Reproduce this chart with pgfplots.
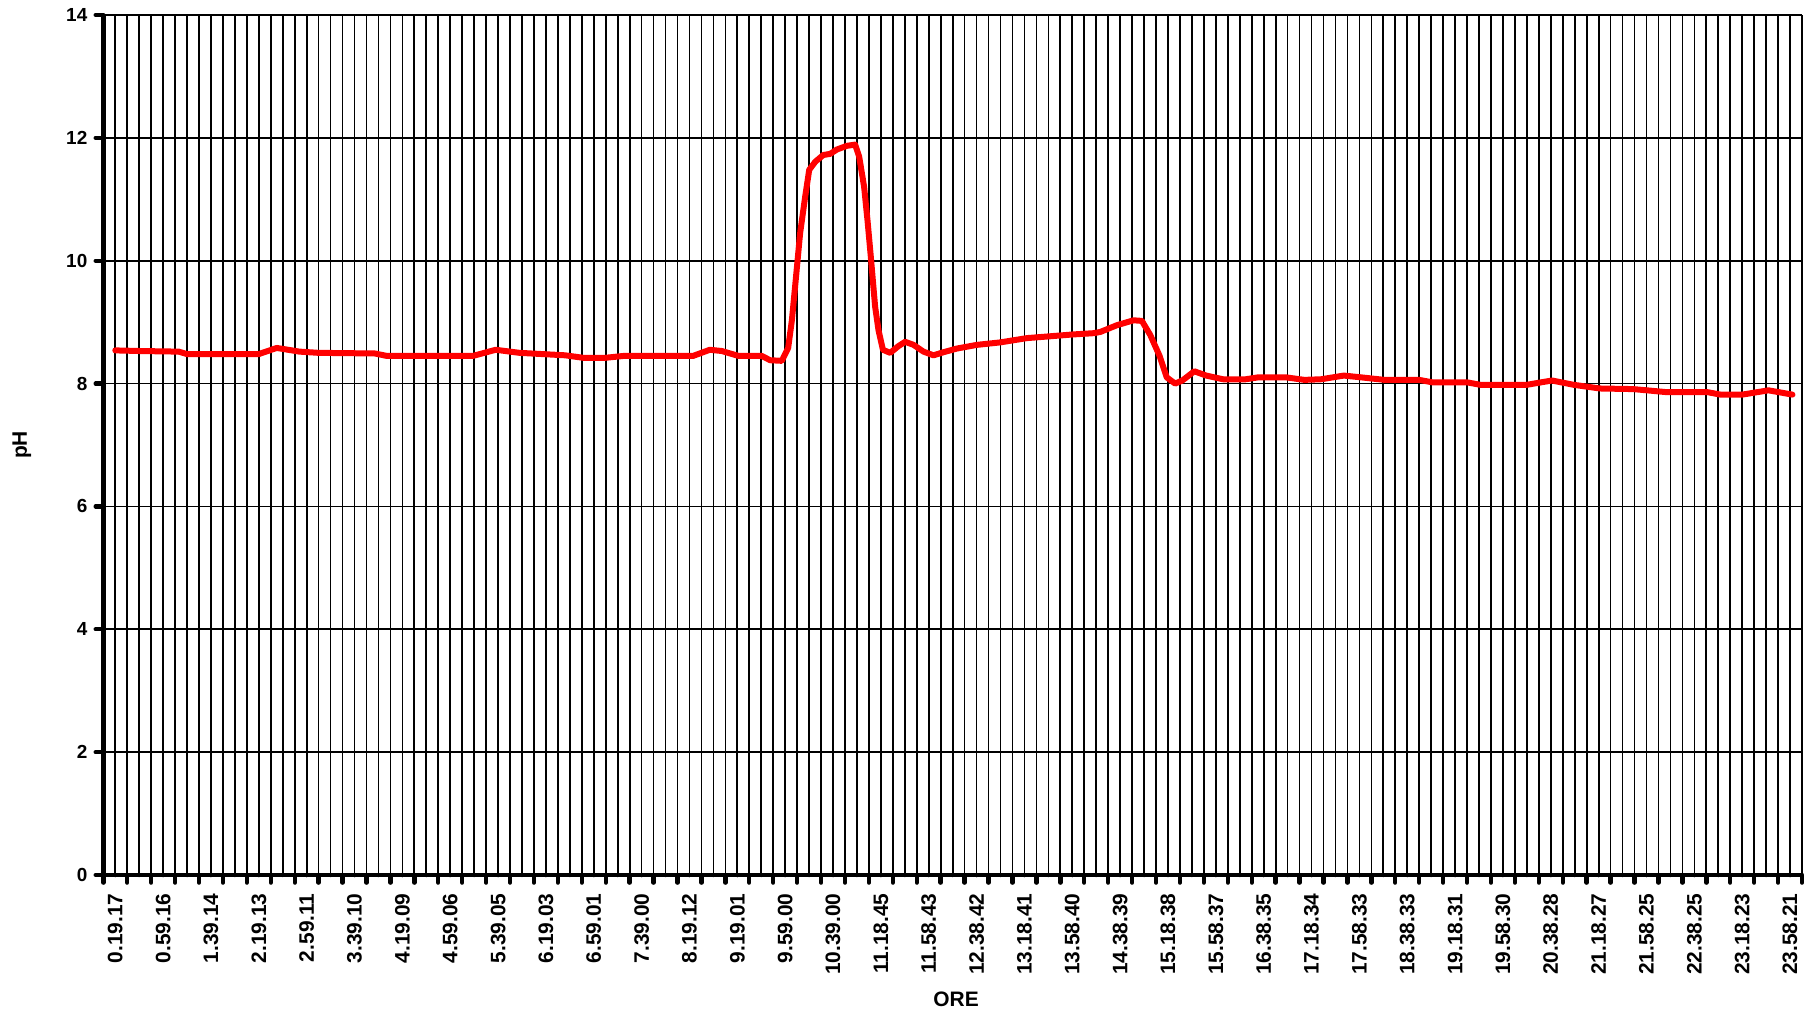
\documentclass[border=0pt]{standalone}
\usepackage{fontspec}
\setmainfont{Liberation Sans}
\usepackage{pgfplots}
\pgfplotsset{compat=1.18}
\begin{document}
\begin{tikzpicture}
\path[use as bounding box] (0,0) rectangle (904.5bp,508.5bp);
\begin{axis}[
  at={(51.65bp,71bp)}, anchor=south west,
  scale only axis, width=849.35bp, height=430bp,
  xmin=0, xmax=142, ymin=0, ymax=14,
  axis x line*=bottom, axis y line*=left,
  axis line style={line width=2.4bp, black},
  xtick={0,2,...,142}, xticklabels={},
  minor xtick={1,3,...,141},
  ytick={0,2,...,14},
  grid=both,
  major grid style={black, line width=0.85bp},
  minor grid style={black, line width=0.85bp},
  tick align=outside,
  major tick length=3.8bp, minor tick length=0pt,
  every tick/.style={black, line width=2.2bp, line cap=round},
  /pgf/number format/assume math mode=true,
  yticklabel style={font=\fontsize{9.5}{9.5}\selectfont\bfseries, inner sep=0pt, xshift=-4bp},
  extra x ticks={1,5,...,141},
  extra x tick labels={0.19.17,0.59.16,1.39.14,2.19.13,2.59.11,3.39.10,4.19.09,4.59.06,5.39.05,6.19.03,6.59.01,7.39.00,8.19.12,9.19.01,9.59.00,10.39.00,11.18.45,11.58.43,12.38.42,13.18.41,13.58.40,14.38.39,15.18.38,15.58.37,16.38.35,17.18.34,17.58.33,18.38.33,19.18.31,19.58.30,20.38.28,21.18.27,21.58.25,22.38.25,23.18.23,23.58.21},
  extra x tick style={major tick length=0pt, grid=none,
    xticklabel style={rotate=90, anchor=east, inner sep=0pt, yshift=0bp, xshift=-9bp,
      font=\fontsize{10.5}{10.5}\selectfont\bfseries}},
  xlabel={ORE}, ylabel={pH},
  xlabel style={at={(axis description cs:0.502,-0.144)}, anchor=center, font=\fontsize{10.5}{10.5}\selectfont\bfseries},
  ylabel style={at={(axis description cs:-0.048,0.5)}, anchor=center, rotate=0, font=\fontsize{10.5}{10.5}\selectfont\bfseries},
]
\addplot[red, line width=3bp, line join=round, line cap=round, mark=none] coordinates {
(1,8.54) (3,8.53) (6.3,8.52) (7.0,8.48) (13.0,8.48) (14.5,8.58) (16.4,8.52)
(18,8.50) (22.7,8.49) (23.7,8.45) (30.9,8.45) (32.8,8.55) (34.8,8.50)
(38.6,8.46) (40.1,8.42) (42.0,8.42) (43.5,8.45) (49.3,8.45) (50.7,8.55)
(51.7,8.53) (53.1,8.45) (55.05,8.45) (55.74,8.38) (56.72,8.37) (57.25,8.58)
(57.56,9.03) (57.83,9.58) (58.25,10.45) (58.67,11.04) (59.01,11.48)
(59.51,11.61) (60.18,11.72) (60.77,11.74) (61.32,11.81) (62.16,11.87)
(62.85,11.89) (63.19,11.69) (63.60,11.2) (63.88,10.66) (64.16,10.06)
(64.52,9.25) (64.80,8.87) (65.17,8.55) (65.78,8.50) (66.47,8.61)
(67.03,8.68) (67.73,8.63) (68.56,8.52) (69.40,8.46) (70.23,8.51)
(71.35,8.57) (73.03,8.63) (74.97,8.67) (77.21,8.74) (79.16,8.77)
(81.10,8.80) (82.78,8.82) (83.34,8.84) (84.73,8.95) (86.12,9.03)
(86.82,9.02) (87.52,8.79) (88.3,8.45) (88.9,8.10) (89.6,8.00) (90.2,8.05)
(91.2,8.20) (92.2,8.13) (93.6,8.07) (95.5,8.07) (96.5,8.10) (98.9,8.10)
(100.4,8.06) (101.8,8.07) (103.7,8.13) (105.2,8.10) (107.1,8.06)
(108.4,8.06) (110.0,8.06) (111.1,8.02) (114.0,8.02) (115.1,7.98)
(119.0,7.98) (121.1,8.05) (122.9,7.98) (125.1,7.92) (127.9,7.91)
(130.7,7.86) (134.1,7.86) (135.2,7.82) (137.0,7.82) (139.2,7.89) (141.2,7.82)
};
\end{axis}
\end{tikzpicture}
\end{document}
